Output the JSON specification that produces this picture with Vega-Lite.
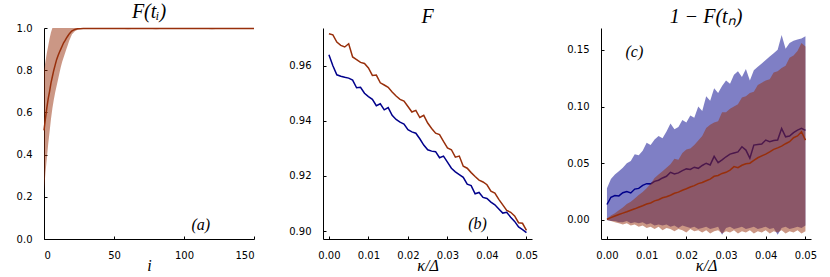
{
  "$schema": "https://vega.github.io/schema/vega-lite/v6.json",
  "padding": {"left": 16, "top": 2, "right": 5, "bottom": 2},
  "background": "white",
  "spacing": 69,
  "bounds": "flush",
  "config": {
    "view": {"stroke": null},
    "font": "DejaVu Sans",
    "axis": {"grid": false, "domainColor": "#000", "domainWidth": 1, "tickColor": "#000", "tickSize": -3, "labelFont": "DejaVu Sans", "labelFontSize": 10, "labelColor": "#000", "labelPadding": 15, "titleFont": "Liberation Serif", "titleFontStyle": "italic", "titleFontWeight": "normal", "titleFontSize": 16, "titleColor": "#000", "titlePadding": 0},
    "axisX": {"labelPadding": 14, "titlePadding": -3},
    "title": {"font": "Liberation Serif", "fontStyle": "italic", "fontWeight": "normal", "fontSize": 20, "color": "#000", "frame": "group", "offset": 1}
  },
  "datasets": {
    "a": [
      {"i":0,"m":0.515,"lo":0.23,"hi":0.80},{"i":1,"m":0.57,"lo":0.31,"hi":0.84},{"i":2,"m":0.62,"lo":0.38,"hi":0.88},{"i":3,"m":0.665,"lo":0.45,"hi":0.915},{"i":4,"m":0.70,"lo":0.51,"hi":0.95},{"i":5,"m":0.74,"lo":0.57,"hi":0.98},{"i":6,"m":0.77,"lo":0.62,"hi":1.0},{"i":7,"m":0.80,"lo":0.66,"hi":1.0},{"i":8,"m":0.825,"lo":0.695,"hi":1.0},{"i":9,"m":0.85,"lo":0.725,"hi":1.0},{"i":10,"m":0.868,"lo":0.755,"hi":1.0},{"i":11,"m":0.885,"lo":0.785,"hi":1.0},{"i":12,"m":0.90,"lo":0.815,"hi":1.0},{"i":13,"m":0.915,"lo":0.84,"hi":1.0},{"i":14,"m":0.93,"lo":0.86,"hi":1.0},{"i":15,"m":0.94,"lo":0.88,"hi":1.0},{"i":16,"m":0.952,"lo":0.90,"hi":1.0},{"i":17,"m":0.962,"lo":0.92,"hi":1.0},{"i":18,"m":0.972,"lo":0.94,"hi":1.0},{"i":19,"m":0.98,"lo":0.955,"hi":1.0},{"i":20,"m":0.986,"lo":0.97,"hi":1.0},{"i":21,"m":0.99,"lo":0.978,"hi":1.0},{"i":22,"m":0.993,"lo":0.985,"hi":1.0},{"i":24,"m":0.996,"lo":0.992,"hi":1.0},{"i":26,"m":0.997,"lo":0.995,"hi":1.0},{"i":28,"m":0.998,"lo":0.996,"hi":1.0},
      {"i":30,"m":0.998,"lo":0.996,"hi":1.0},{"i":35,"m":0.998,"lo":0.995,"hi":1.0},{"i":40,"m":0.998,"lo":0.996,"hi":1.0},{"i":45,"m":0.998,"lo":0.995,"hi":1.0},{"i":50,"m":0.998,"lo":0.996,"hi":1.0},{"i":55,"m":0.998,"lo":0.996,"hi":1.0},{"i":60,"m":0.998,"lo":0.994,"hi":1.0},{"i":65,"m":0.998,"lo":0.996,"hi":1.0},{"i":70,"m":0.998,"lo":0.995,"hi":1.0},{"i":75,"m":0.998,"lo":0.996,"hi":1.0},{"i":80,"m":0.998,"lo":0.994,"hi":1.0},{"i":85,"m":0.998,"lo":0.996,"hi":1.0},{"i":90,"m":0.998,"lo":0.995,"hi":1.0},{"i":95,"m":0.998,"lo":0.996,"hi":1.0},{"i":100,"m":0.998,"lo":0.995,"hi":1.0},{"i":105,"m":0.998,"lo":0.996,"hi":1.0},{"i":110,"m":0.998,"lo":0.995,"hi":1.0},{"i":115,"m":0.998,"lo":0.996,"hi":1.0},{"i":120,"m":0.998,"lo":0.994,"hi":1.0},{"i":125,"m":0.998,"lo":0.996,"hi":1.0},{"i":130,"m":0.998,"lo":0.995,"hi":1.0},{"i":135,"m":0.998,"lo":0.996,"hi":1.0},{"i":140,"m":0.998,"lo":0.995,"hi":1.0},{"i":145,"m":0.998,"lo":0.996,"hi":1.0},{"i":150,"m":0.998,"lo":0.996,"hi":1.0}
    ],
    "b": [
      {"k":0.000,"s":"r","F":0.9716},{"k":0.001,"s":"r","F":0.9712},{"k":0.002,"s":"r","F":0.9686},{"k":0.003,"s":"r","F":0.9674},{"k":0.004,"s":"r","F":0.9668},{"k":0.005,"s":"r","F":0.9680},{"k":0.006,"s":"r","F":0.9632},{"k":0.007,"s":"r","F":0.9622},{"k":0.008,"s":"r","F":0.9612},{"k":0.009,"s":"r","F":0.9608},{"k":0.010,"s":"r","F":0.9592},{"k":0.011,"s":"r","F":0.9565},{"k":0.012,"s":"r","F":0.9566},{"k":0.013,"s":"r","F":0.9538},{"k":0.014,"s":"r","F":0.9530},{"k":0.015,"s":"r","F":0.9522},{"k":0.016,"s":"r","F":0.9505},{"k":0.017,"s":"r","F":0.9490},{"k":0.018,"s":"r","F":0.9478},{"k":0.019,"s":"r","F":0.9472},{"k":0.020,"s":"r","F":0.9452},{"k":0.021,"s":"r","F":0.9432},{"k":0.022,"s":"r","F":0.9438},{"k":0.023,"s":"r","F":0.9412},{"k":0.024,"s":"r","F":0.9420},{"k":0.025,"s":"r","F":0.9392},{"k":0.026,"s":"r","F":0.9372},{"k":0.027,"s":"r","F":0.9355},{"k":0.028,"s":"r","F":0.9350},{"k":0.029,"s":"r","F":0.9325},{"k":0.030,"s":"r","F":0.9302},{"k":0.031,"s":"r","F":0.9295},{"k":0.032,"s":"r","F":0.9268},{"k":0.033,"s":"r","F":0.9272},{"k":0.034,"s":"r","F":0.9235},{"k":0.035,"s":"r","F":0.9228},{"k":0.036,"s":"r","F":0.9212},{"k":0.037,"s":"r","F":0.9198},{"k":0.038,"s":"r","F":0.9185},{"k":0.039,"s":"r","F":0.9178},{"k":0.040,"s":"r","F":0.9168},{"k":0.041,"s":"r","F":0.9145},{"k":0.042,"s":"r","F":0.9138},{"k":0.043,"s":"r","F":0.9115},{"k":0.044,"s":"r","F":0.9095},{"k":0.045,"s":"r","F":0.9075},{"k":0.046,"s":"r","F":0.9068},{"k":0.047,"s":"r","F":0.9055},{"k":0.048,"s":"r","F":0.9030},{"k":0.049,"s":"r","F":0.9028},{"k":0.050,"s":"r","F":0.9002},
      {"k":0.000,"s":"n","F":0.9640},{"k":0.001,"s":"n","F":0.9600},{"k":0.002,"s":"n","F":0.9567},{"k":0.003,"s":"n","F":0.9562},{"k":0.004,"s":"n","F":0.9558},{"k":0.005,"s":"n","F":0.9555},{"k":0.006,"s":"n","F":0.9548},{"k":0.007,"s":"n","F":0.9520},{"k":0.008,"s":"n","F":0.9522},{"k":0.009,"s":"n","F":0.9500},{"k":0.010,"s":"n","F":0.9488},{"k":0.011,"s":"n","F":0.9478},{"k":0.012,"s":"n","F":0.9455},{"k":0.013,"s":"n","F":0.9462},{"k":0.014,"s":"n","F":0.9440},{"k":0.015,"s":"n","F":0.9448},{"k":0.016,"s":"n","F":0.9420},{"k":0.017,"s":"n","F":0.9405},{"k":0.018,"s":"n","F":0.9395},{"k":0.019,"s":"n","F":0.9388},{"k":0.020,"s":"n","F":0.9368},{"k":0.021,"s":"n","F":0.9360},{"k":0.022,"s":"n","F":0.9355},{"k":0.023,"s":"n","F":0.9335},{"k":0.024,"s":"n","F":0.9312},{"k":0.025,"s":"n","F":0.9295},{"k":0.026,"s":"n","F":0.9290},{"k":0.027,"s":"n","F":0.9288},{"k":0.028,"s":"n","F":0.9266},{"k":0.029,"s":"n","F":0.9272},{"k":0.030,"s":"n","F":0.9250},{"k":0.031,"s":"n","F":0.9228},{"k":0.032,"s":"n","F":0.9215},{"k":0.033,"s":"n","F":0.9205},{"k":0.034,"s":"n","F":0.9195},{"k":0.035,"s":"n","F":0.9170},{"k":0.036,"s":"n","F":0.9165},{"k":0.037,"s":"n","F":0.9135},{"k":0.038,"s":"n","F":0.9140},{"k":0.039,"s":"n","F":0.9122},{"k":0.040,"s":"n","F":0.9118},{"k":0.041,"s":"n","F":0.9105},{"k":0.042,"s":"n","F":0.9095},{"k":0.043,"s":"n","F":0.9080},{"k":0.044,"s":"n","F":0.9065},{"k":0.045,"s":"n","F":0.9068},{"k":0.046,"s":"n","F":0.9050},{"k":0.047,"s":"n","F":0.9035},{"k":0.048,"s":"n","F":0.9015},{"k":0.049,"s":"n","F":0.9005},{"k":0.050,"s":"n","F":0.8994}
    ],
    "c": [
      {"k":0.000,"s":"n","m":0.0136,"lo":0.000,"hi":0.028},{"k":0.001,"s":"n","m":0.0200,"lo":-0.001,"hi":0.036},{"k":0.002,"s":"n","m":0.0215,"lo":-0.001,"hi":0.040},{"k":0.003,"s":"n","m":0.0212,"lo":-0.002,"hi":0.043},{"k":0.004,"s":"n","m":0.0240,"lo":-0.002,"hi":0.046},{"k":0.005,"s":"n","m":0.0250,"lo":-0.001,"hi":0.050},{"k":0.006,"s":"n","m":0.0238,"lo":-0.003,"hi":0.052},{"k":0.007,"s":"n","m":0.0272,"lo":-0.002,"hi":0.058},{"k":0.008,"s":"n","m":0.0278,"lo":-0.003,"hi":0.057},{"k":0.009,"s":"n","m":0.0305,"lo":-0.002,"hi":0.061},{"k":0.010,"s":"n","m":0.0320,"lo":-0.004,"hi":0.068},{"k":0.011,"s":"n","m":0.0318,"lo":-0.003,"hi":0.066},{"k":0.012,"s":"n","m":0.0340,"lo":-0.005,"hi":0.071},{"k":0.013,"s":"n","m":0.0350,"lo":-0.004,"hi":0.074},{"k":0.014,"s":"n","m":0.0370,"lo":-0.005,"hi":0.072},{"k":0.015,"s":"n","m":0.0385,"lo":-0.004,"hi":0.078},{"k":0.016,"s":"n","m":0.0420,"lo":-0.006,"hi":0.085},{"k":0.017,"s":"n","m":0.0405,"lo":-0.005,"hi":0.080},{"k":0.018,"s":"n","m":0.0415,"lo":-0.007,"hi":0.082},{"k":0.019,"s":"n","m":0.0435,"lo":-0.005,"hi":0.088},{"k":0.020,"s":"n","m":0.0450,"lo":-0.006,"hi":0.086},{"k":0.021,"s":"n","m":0.0445,"lo":-0.007,"hi":0.092},{"k":0.022,"s":"n","m":0.0465,"lo":-0.006,"hi":0.090},{"k":0.023,"s":"n","m":0.0455,"lo":-0.008,"hi":0.100},{"k":0.024,"s":"n","m":0.0480,"lo":-0.007,"hi":0.096},{"k":0.025,"s":"n","m":0.0500,"lo":-0.006,"hi":0.109},{"k":0.026,"s":"n","m":0.0485,"lo":-0.008,"hi":0.105},{"k":0.027,"s":"n","m":0.0560,"lo":-0.007,"hi":0.116},{"k":0.028,"s":"n","m":0.0505,"lo":-0.006,"hi":0.112},{"k":0.029,"s":"n","m":0.0530,"lo":-0.013,"hi":0.118},{"k":0.030,"s":"n","m":0.0557,"lo":-0.007,"hi":0.123},{"k":0.031,"s":"n","m":0.0580,"lo":-0.006,"hi":0.120},{"k":0.032,"s":"n","m":0.0590,"lo":-0.008,"hi":0.128},{"k":0.033,"s":"n","m":0.0600,"lo":-0.007,"hi":0.131},{"k":0.034,"s":"n","m":0.0645,"lo":-0.006,"hi":0.126},{"k":0.035,"s":"n","m":0.0616,"lo":-0.008,"hi":0.133},{"k":0.036,"s":"n","m":0.0545,"lo":-0.007,"hi":0.123},{"k":0.037,"s":"n","m":0.0660,"lo":-0.006,"hi":0.132},{"k":0.038,"s":"n","m":0.0665,"lo":-0.008,"hi":0.135},{"k":0.039,"s":"n","m":0.0670,"lo":-0.007,"hi":0.138},{"k":0.040,"s":"n","m":0.0704,"lo":-0.006,"hi":0.141},{"k":0.041,"s":"n","m":0.0690,"lo":-0.008,"hi":0.144},{"k":0.042,"s":"n","m":0.0700,"lo":-0.007,"hi":0.147},{"k":0.043,"s":"n","m":0.0704,"lo":-0.013,"hi":0.150},{"k":0.044,"s":"n","m":0.0807,"lo":-0.007,"hi":0.163},{"k":0.045,"s":"n","m":0.0733,"lo":-0.006,"hi":0.151},{"k":0.046,"s":"n","m":0.0740,"lo":-0.008,"hi":0.156},{"k":0.047,"s":"n","m":0.0770,"lo":-0.007,"hi":0.158},{"k":0.048,"s":"n","m":0.0792,"lo":-0.006,"hi":0.159},{"k":0.049,"s":"n","m":0.0807,"lo":-0.007,"hi":0.160},{"k":0.050,"s":"n","m":0.0790,"lo":-0.005,"hi":0.162},
      {"k":0.000,"s":"r","m":0.0006,"lo":0.000,"hi":0.001},{"k":0.001,"s":"r","m":0.0020,"lo":-0.001,"hi":0.004},{"k":0.002,"s":"r","m":0.0035,"lo":-0.002,"hi":0.006},{"k":0.003,"s":"r","m":0.0048,"lo":-0.003,"hi":0.0086},{"k":0.004,"s":"r","m":0.0060,"lo":-0.004,"hi":0.011},{"k":0.005,"s":"r","m":0.0072,"lo":-0.003,"hi":0.014},{"k":0.006,"s":"r","m":0.0085,"lo":-0.005,"hi":0.016},{"k":0.007,"s":"r","m":0.0098,"lo":-0.004,"hi":0.019},{"k":0.008,"s":"r","m":0.0112,"lo":-0.006,"hi":0.022},{"k":0.009,"s":"r","m":0.0125,"lo":-0.005,"hi":0.0247},{"k":0.010,"s":"r","m":0.0140,"lo":-0.007,"hi":0.028},{"k":0.011,"s":"r","m":0.0150,"lo":-0.006,"hi":0.032},{"k":0.012,"s":"r","m":0.0168,"lo":-0.008,"hi":0.037},{"k":0.013,"s":"r","m":0.0178,"lo":-0.006,"hi":0.040},{"k":0.014,"s":"r","m":0.0195,"lo":-0.009,"hi":0.043},{"k":0.015,"s":"r","m":0.0205,"lo":-0.007,"hi":0.046},{"k":0.016,"s":"r","m":0.0218,"lo":-0.008,"hi":0.049},{"k":0.017,"s":"r","m":0.0235,"lo":-0.010,"hi":0.054},{"k":0.018,"s":"r","m":0.0245,"lo":-0.008,"hi":0.053},{"k":0.019,"s":"r","m":0.0262,"lo":-0.009,"hi":0.059},{"k":0.020,"s":"r","m":0.0275,"lo":-0.011,"hi":0.062},{"k":0.021,"s":"r","m":0.0290,"lo":-0.008,"hi":0.063},{"k":0.022,"s":"r","m":0.0302,"lo":-0.010,"hi":0.066},{"k":0.023,"s":"r","m":0.0320,"lo":-0.009,"hi":0.070},{"k":0.024,"s":"r","m":0.0330,"lo":-0.011,"hi":0.074},{"k":0.025,"s":"r","m":0.0345,"lo":-0.009,"hi":0.081},{"k":0.026,"s":"r","m":0.0360,"lo":-0.012,"hi":0.084},{"k":0.027,"s":"r","m":0.0385,"lo":-0.010,"hi":0.086},{"k":0.028,"s":"r","m":0.0392,"lo":-0.009,"hi":0.087},{"k":0.029,"s":"r","m":0.0410,"lo":-0.012,"hi":0.095},{"k":0.030,"s":"r","m":0.0420,"lo":-0.010,"hi":0.095},{"k":0.031,"s":"r","m":0.0440,"lo":-0.011,"hi":0.098},{"k":0.032,"s":"r","m":0.0470,"lo":-0.009,"hi":0.100},{"k":0.033,"s":"r","m":0.0460,"lo":-0.012,"hi":0.102},{"k":0.034,"s":"r","m":0.0482,"lo":-0.010,"hi":0.108},{"k":0.035,"s":"r","m":0.0495,"lo":-0.011,"hi":0.109},{"k":0.036,"s":"r","m":0.0500,"lo":-0.009,"hi":0.112},{"k":0.037,"s":"r","m":0.0525,"lo":-0.012,"hi":0.113},{"k":0.038,"s":"r","m":0.0548,"lo":-0.010,"hi":0.119},{"k":0.039,"s":"r","m":0.0565,"lo":-0.011,"hi":0.121},{"k":0.040,"s":"r","m":0.0580,"lo":-0.009,"hi":0.123},{"k":0.041,"s":"r","m":0.0600,"lo":-0.012,"hi":0.124},{"k":0.042,"s":"r","m":0.0622,"lo":-0.010,"hi":0.130},{"k":0.043,"s":"r","m":0.0635,"lo":-0.011,"hi":0.131},{"k":0.044,"s":"r","m":0.0650,"lo":-0.009,"hi":0.134},{"k":0.045,"s":"r","m":0.0672,"lo":-0.012,"hi":0.136},{"k":0.046,"s":"r","m":0.0690,"lo":-0.010,"hi":0.143},{"k":0.047,"s":"r","m":0.0725,"lo":-0.011,"hi":0.145},{"k":0.048,"s":"r","m":0.0740,"lo":-0.009,"hi":0.149},{"k":0.049,"s":"r","m":0.0777,"lo":-0.012,"hi":0.156},{"k":0.050,"s":"r","m":0.0704,"lo":-0.010,"hi":0.153}
    ]
  },
  "hconcat": [
    {
      "width": 210, "height": 211,
      "title": "F(tᵢ)",
      "data": {"name": "a"},
      "layer": [
        {"mark": {"type": "area", "color": "#982f0b", "opacity": 0.5, "clip": true},
         "encoding": {
           "x": {"field": "i", "type": "quantitative", "scale": {"domain": [0, 150], "nice": false}, "axis": {"values": [0, 50, 100, 150], "title": "i"}},
           "y": {"field": "lo", "type": "quantitative", "scale": {"domain": [0, 1], "nice": false}, "axis": {"values": [0, 0.2, 0.4, 0.6, 0.8, 1], "format": ".1f", "title": null}},
           "y2": {"field": "hi"}}},
        {"mark": {"type": "line", "color": "#982f0b", "strokeWidth": 1.5},
         "encoding": {
           "x": {"field": "i", "type": "quantitative", "axis": {"title": "i"}},
           "y": {"field": "m", "type": "quantitative", "axis": {"title": null}}}},
        {"data": {"values": [{"x": 112, "y": 0.066, "t": "(a)"}]},
         "mark": {"type": "text", "font": "Liberation Serif", "fontStyle": "italic", "fontSize": 16, "baseline": "middle", "align": "center"},
         "encoding": {
           "x": {"field": "x", "type": "quantitative", "axis": {"title": "i"}},
           "y": {"field": "y", "type": "quantitative", "axis": {"title": null}},
           "text": {"field": "t"}}}
      ]
    },
    {
      "width": 209, "height": 211,
      "title": "F",
      "data": {"name": "b"},
      "layer": [
        {"transform": [{"filter": "datum.s == 'r'"}],
         "mark": {"type": "line", "color": "#982f0b", "strokeWidth": 1.5},
         "encoding": {
           "x": {"field": "k", "type": "quantitative", "scale": {"domain": [-0.0015, 0.0514], "nice": false, "zero": false}, "axis": {"values": [0, 0.01, 0.02, 0.03, 0.04, 0.05], "format": ".2f", "title": "κ/Δ"}},
           "y": {"field": "F", "type": "quantitative", "scale": {"domain": [0.8971, 0.9737], "nice": false, "zero": false}, "axis": {"values": [0.90, 0.92, 0.94, 0.96], "format": ".2f", "title": null}}}},
        {"transform": [{"filter": "datum.s == 'n'"}],
         "mark": {"type": "line", "color": "#00008b", "strokeWidth": 1.5},
         "encoding": {
           "x": {"field": "k", "type": "quantitative", "axis": {"title": "κ/Δ"}},
           "y": {"field": "F", "type": "quantitative", "axis": {"title": null}}}},
        {"data": {"values": [{"x": 0.0376, "y": 0.9024, "t": "(b)"}]},
         "mark": {"type": "text", "font": "Liberation Serif", "fontStyle": "italic", "fontSize": 16, "baseline": "middle", "align": "center"},
         "encoding": {
           "x": {"field": "x", "type": "quantitative", "axis": {"title": "κ/Δ"}},
           "y": {"field": "y", "type": "quantitative", "axis": {"title": null}},
           "text": {"field": "t"}}}
      ]
    },
    {
      "width": 210, "height": 211,
      "title": "1 − F(tₙ)",
      "data": {"name": "c"},
      "layer": [
        {"transform": [{"filter": "datum.s == 'n'"}],
         "mark": {"type": "area", "color": "#00008b", "opacity": 0.5, "clip": true},
         "encoding": {
           "x": {"field": "k", "type": "quantitative", "scale": {"domain": [-0.0015, 0.0514], "nice": false, "zero": false}, "axis": {"values": [0, 0.01, 0.02, 0.03, 0.04, 0.05], "format": ".2f", "title": "κ/Δ"}},
           "y": {"field": "lo", "type": "quantitative", "scale": {"domain": [-0.0168, 0.1692], "nice": false, "zero": false}, "axis": {"values": [0, 0.05, 0.10, 0.15], "format": ".2f", "title": null}},
           "y2": {"field": "hi"}}},
        {"transform": [{"filter": "datum.s == 'n'"}],
         "mark": {"type": "line", "color": "#00008b", "strokeWidth": 1.5},
         "encoding": {
           "x": {"field": "k", "type": "quantitative", "axis": {"title": "κ/Δ"}},
           "y": {"field": "m", "type": "quantitative", "axis": {"title": null}}}},
        {"transform": [{"filter": "datum.s == 'r'"}],
         "mark": {"type": "area", "color": "#982f0b", "opacity": 0.5, "clip": true},
         "encoding": {
           "x": {"field": "k", "type": "quantitative", "axis": {"title": "κ/Δ"}},
           "y": {"field": "lo", "type": "quantitative", "axis": {"title": null}},
           "y2": {"field": "hi"}}},
        {"transform": [{"filter": "datum.s == 'r'"}],
         "mark": {"type": "line", "color": "#982f0b", "strokeWidth": 1.5},
         "encoding": {
           "x": {"field": "k", "type": "quantitative", "axis": {"title": "κ/Δ"}},
           "y": {"field": "m", "type": "quantitative", "axis": {"title": null}}}},
        {"data": {"values": [{"x": 0.0069, "y": 0.1477, "t": "(c)"}]},
         "mark": {"type": "text", "font": "Liberation Serif", "fontStyle": "italic", "fontSize": 16, "baseline": "middle", "align": "center"},
         "encoding": {
           "x": {"field": "x", "type": "quantitative", "axis": {"title": "κ/Δ"}},
           "y": {"field": "y", "type": "quantitative", "axis": {"title": null}},
           "text": {"field": "t"}}}
      ]
    }
  ]
}
